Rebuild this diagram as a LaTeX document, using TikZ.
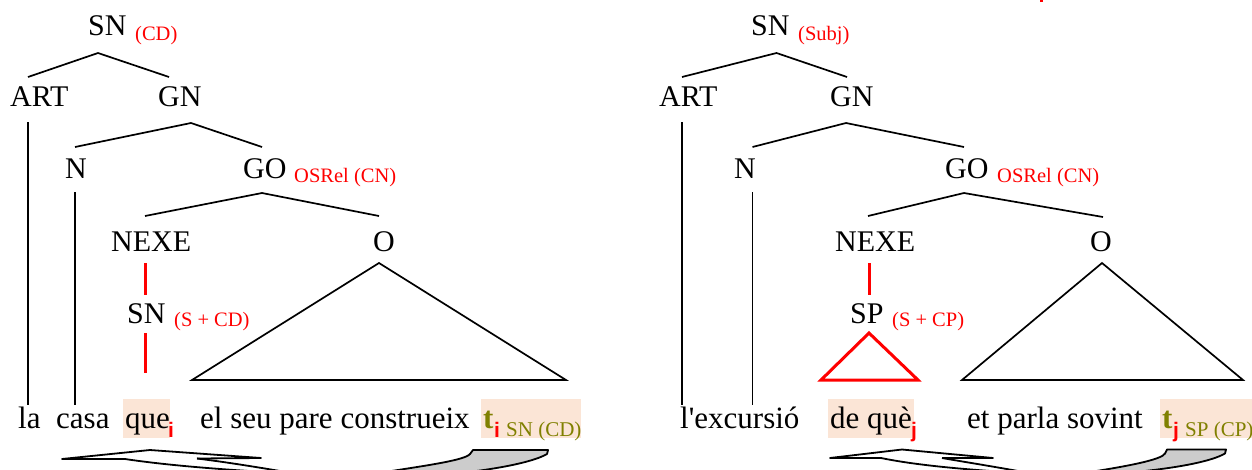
\documentclass[tikz,border=0pt]{standalone}
\usepackage{fontspec}
\setmainfont{Liberation Serif}
\newfontfamily\idxfont{Liberation Sans}
\definecolor{relred}{RGB}{255,0,0}
\definecolor{trace}{RGB}{128,128,0}
\definecolor{hl}{RGB}{251,229,214}
\definecolor{shade}{RGB}{204,204,204}
\begin{document}
\begin{tikzpicture}[x=1pt,y=-1pt,
  lab/.style={inner sep=0pt, anchor=base west, font=\fontsize{30}{30}\selectfont},
  word/.style={inner sep=0pt, anchor=base west, font=\fontsize{31}{31}\selectfont},
  fn/.style={inner sep=0pt, anchor=base west, text=relred, font=\fontsize{20.5}{20.5}\selectfont},
  idx/.style={inner sep=0pt, anchor=base west, text=relred, font=\idxfont\bfseries\fontsize{21}{21}\selectfont},
  tr/.style={inner sep=0pt, anchor=base west, text=trace, font=\bfseries\fontsize{31}{31}\selectfont},
  trlab/.style={inner sep=0pt, anchor=base west, text=trace, font=\fontsize{21}{21}\selectfont},
  branch/.style={line width=1.7pt, draw=black},
  redbranch/.style={line width=3pt, draw=relred},
  hlbox/.style={fill=hl, draw=none},
  bandline/.style={line width=1.8pt, line join=round, draw=black},
]
\useasboundingbox (0,0) rectangle (1252,469);

% ---------- highlights ----------
\fill[hlbox] (123,399) rectangle (170,438);
\fill[hlbox] (481,399) rectangle (581,438);
\fill[hlbox] (828,399) rectangle (914,438);
\fill[hlbox] (1160,399) rectangle (1252,438);

% ================= LEFT TREE =================
\node[lab] (LSN) at (88,35) {SN};
\node[fn] (LSNf) at (135,40) {(CD)};
\node[lab] (LART) at (10,106) {ART};
\node[lab] (LGN) at (158,106) {GN};
\node[lab] (LN) at (65,178) {N};
\node[lab] (LGO) at (243,178) {GO};
\node[fn] (LGOf) at (294,182) {OSRel (CN)};
\node[lab] (LNEXE) at (111,251) {NEXE};
\node[lab] (LO) at (373,251) {O};
\node[lab] (LSN2) at (127,323) {SN};
\node[fn] (LSN2f) at (174,326) {(S + CD)};

\coordinate (LsnA) at (98,53);
\coordinate (LartT) at (28,77);
\coordinate (LgnT) at (169,77);
\draw[branch] (LartT) -- (LsnA) -- (LgnT);
\coordinate (LartB) at (28,122);
\coordinate (LlaT) at (28,405);
\draw[branch] (LartB) -- (LlaT);
\coordinate (LgnA) at (191,123);
\coordinate (LnT) at (75,147);
\coordinate (LgoT) at (262,147);
\draw[branch] (LnT) -- (LgnA) -- (LgoT);
\coordinate (LnB) at (75,192);
\coordinate (LcasaT) at (75,405);
\draw[branch] (LnB) -- (LcasaT);
\coordinate (LgoA) at (262,193);
\coordinate (LnexeT) at (145,216);
\coordinate (LoT) at (379,216);
\draw[branch] (LnexeT) -- (LgoA) -- (LoT);
\coordinate (LnexeB) at (145,263);
\coordinate (Lsn2T) at (145,295);
\draw[redbranch] (LnexeB) -- (Lsn2T);
\coordinate (Lsn2B) at (145,333);
\coordinate (LqueT) at (145,373);
\draw[redbranch] (Lsn2B) -- (LqueT);
\coordinate (LoA) at (379,263);
\coordinate (LoL) at (192,380);
\coordinate (LoR) at (566,380);
\draw[branch, line join=miter] (LoA) -- (LoL) -- (LoR) -- cycle;

% sentence
\node[word] (Lla) at (18,428) {la};
\node[word] (Lcasa) at (56,428) {casa};
\node[word] (Lque) at (125,428) {que};
\node[idx] (Lqi) at (168,437) {i};
\node[word] (Lrest) at (200,428) {el seu pare construeix};
\node[tr] (Lt) at (483,428) {t};
\node[idx] (Lti) at (494,437) {i};
\node[trlab] (Ltl) at (506,436) {SN (CD)};

% ================= RIGHT TREE =================
\node[lab] (RSN) at (751,35) {SN};
\node[fn] (RSNf) at (798,40) {(Subj)};
\node[lab] (RART) at (659,106) {ART};
\node[lab] (RGN) at (830,106) {GN};
\node[lab] (RN) at (734,178) {N};
\node[lab] (RGO) at (945,178) {GO};
\node[fn] (RGOf) at (997,182) {OSRel (CN)};
\node[lab] (RNEXE) at (835,251) {NEXE};
\node[lab] (RO) at (1090,251) {O};
\node[lab] (RSP) at (850,323) {SP};
\node[fn] (RSPf) at (892,326) {(S + CP)};

\coordinate (RsnA) at (776.5,53);
\coordinate (RartT) at (682,77);
\coordinate (RgnT) at (847,77);
\draw[branch] (RartT) -- (RsnA) -- (RgnT);
\coordinate (RartB) at (682,122);
\coordinate (RexcT) at (682,405);
\draw[branch] (RartB) -- (RexcT);
\coordinate (RgnA) at (846,123);
\coordinate (RnT) at (752.5,147);
\coordinate (RgoT) at (964,147);
\draw[branch] (RnT) -- (RgnA) -- (RgoT);
\coordinate (RnB) at (752.5,192);
\coordinate (RnW) at (752.5,405);
\draw[branch] (RnB) -- (RnW);
\coordinate (RgoA) at (964,193);
\coordinate (RnexeT) at (868,216);
\coordinate (RoT) at (1103,217);
\draw[branch] (RnexeT) -- (RgoA) -- (RoT);
\coordinate (RnexeB) at (869,263);
\coordinate (RspT) at (869,295);
\draw[redbranch] (RnexeB) -- (RspT);
\coordinate (RspA) at (869,333);
\coordinate (RspL) at (821,380);
\coordinate (RspR) at (918,380);
\draw[redbranch, line join=miter] (RspA) -- (RspL) -- (RspR) -- cycle;
\coordinate (RoA) at (1102,263);
\coordinate (RoL) at (962,380);
\coordinate (RoR) at (1243,380);
\draw[branch, line join=miter] (RoA) -- (RoL) -- (RoR) -- cycle;

% sentence
\node[word] (Rexc) at (680,428) {l\textquotesingle excursió};
\node[word] (Rdeque) at (830,428) {de què};
\node[idx] (Rqj) at (911,437) {j};
\node[word] (Rrest) at (967,428) {et parla sovint};
\node[tr] (Rt) at (1162,428) {t};
\node[idx] (Rtj) at (1173,437) {j};
\node[trlab] (Rtl) at (1185,436) {SP (CP)};

% tiny red fragment at the top
\fill[relred] (1040,0) rectangle (1043,2);

% ================= CURVED ARROWS (cut by the lower edge) =================
\begin{scope}
\clip (0,0) rectangle (1252,469);
% left
\draw[bandline] (125,459) -- (62,459) -- (150,450) -- (261,458) -- (197,458.5);
\draw[bandline] (125,459) .. controls (165,465) and (215,469) .. (265,472);
\draw[bandline] (197,458.5) .. controls (225,462) and (250,466) .. (280,471);
\filldraw[bandline, fill=shade] (385,472) .. controls (430,465) and (465,460) .. (470,454)
   -- (473,450) -- (548,450) -- (547,454) .. controls (535,461) and (505,468) .. (460,473) -- cycle;
% right
\draw[bandline] (881,458) -- (830,458) -- (902,449.5) -- (993,458) -- (942,458);
\draw[bandline] (881,458) .. controls (915,465) and (960,469) .. (1005,472);
\draw[bandline] (942,458) .. controls (965,462) and (990,466) .. (1018,471);
\filldraw[bandline, fill=shade] (1090,472) .. controls (1135,465) and (1162,459) .. (1165,453.5)
   -- (1167,449.5) -- (1226,449.5) -- (1225,453.5) .. controls (1212,461) and (1180,468) .. (1125,473) -- cycle;
\end{scope}
\end{tikzpicture}
\end{document}
